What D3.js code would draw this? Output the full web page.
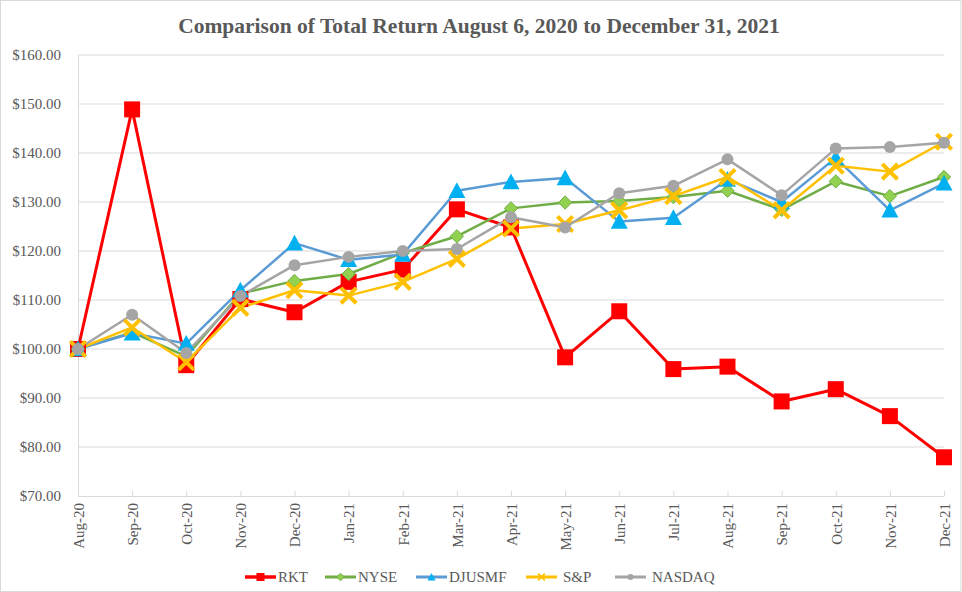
<!DOCTYPE html>
<html>
<head>
<meta charset="utf-8">
<script src="https://cdn.jsdelivr.net/npm/d3@7"></script>
<style>
  body { margin: 0; background: #fff; }
  svg text { font-family: 'Liberation Serif', 'Times New Roman', serif !important; fill: #595959; }
</style>
</head>
<body>
<div id="chart"></div>
<script>
// Category labels and series values
const months = ["Aug-20", "Sep-20", "Oct-20", "Nov-20", "Dec-20", "Jan-21", "Feb-21", "Mar-21",
  "Apr-21", "May-21", "Jun-21", "Jul-21", "Aug-21", "Sep-21", "Oct-21", "Nov-21", "Dec-21"];
const rkt    = [100, 148.9, 96.7, 110.2, 107.5, 113.7, 116.2, 128.5, 124.8, 98.3, 107.7, 95.9, 96.4, 89.3, 91.8, 86.3, 77.9];
const nyse   = [100, 103.4, 98.5, 111.3, 113.9, 115.3, 119.6, 123.0, 128.7, 129.9, 130.2, 131.0, 132.3, 128.4, 134.2, 131.2, 135.1];
const djusmf = [100, 103.2, 101.1, 112.0, 121.6, 118.2, 119.3, 132.3, 134.1, 134.9, 126.0, 126.8, 134.6, 130.0, 139.0, 128.3, 133.8];
const sp     = [100, 104.4, 97.3, 108.4, 112.0, 110.9, 113.7, 118.4, 124.6, 125.5, 128.3, 131.2, 135.1, 128.3, 137.4, 136.2, 142.3];
const nasdaq = [100, 107.0, 99.2, 110.8, 117.1, 118.8, 120.0, 120.4, 126.9, 124.8, 131.8, 133.3, 138.7, 131.4, 140.9, 141.2, 142.1];
const yTicks = [70, 80, 90, 100, 110, 120, 130, 140, 150, 160];

const series = [
  { name: "RKT",    values: rkt,    line: "#FF0000", fill: "#FF0000", stroke: "#FF0000", shape: "square",   lw: 3 },
  { name: "NYSE",   values: nyse,   line: "#70AD47", fill: "#92D050", stroke: "#70AD47", shape: "diamond",  lw: 2.5 },
  { name: "DJUSMF", values: djusmf, line: "#5B9BD5", fill: "#00B0F0", stroke: "#00B0F0", shape: "triangle", lw: 2.5 },
  { name: "S&P",    values: sp,     line: "#FFC000", fill: "none",    stroke: "#FFC000", shape: "cross",    lw: 2.5 },
  { name: "NASDAQ", values: nasdaq, line: "#A5A5A5", fill: "#A5A5A5", stroke: "#A5A5A5", shape: "circle",   lw: 2.5 }
];

const W = 962, H = 592;
const plot = { left: 78, right: 944, top: 55, bottom: 496 };
const FONT = "'Liberation Serif', 'Times New Roman', serif";

const svg = d3.select("#chart").append("svg")
  .attr("width", W).attr("height", H)
  .attr("font-family", FONT);

// chart border
svg.append("rect")
  .attr("x", 0.5).attr("y", 0.5)
  .attr("width", W - 1.5).attr("height", H - 1)
  .attr("fill", "none").attr("stroke", "#d9d9d9");

const x = d3.scalePoint().domain(months).range([plot.left, plot.right]);
const y = d3.scaleLinear().domain([70, 160]).range([plot.bottom, plot.top]);

// Title
svg.append("text")
  .attr("x", 479).attr("y", 33)
  .attr("text-anchor", "middle")
  .style("font-size", "21.5px").style("font-weight", "bold")
  .text("Comparison of Total Return August 6, 2020 to December 31, 2021");

// Gridlines
svg.append("g").selectAll("line")
  .data(yTicks.slice(1))
  .enter().append("line")
  .attr("x1", plot.left).attr("x2", plot.right)
  .attr("y1", d => y(d)).attr("y2", d => y(d))
  .attr("stroke", "#d9d9d9").attr("stroke-width", 1);

// Y axis
const yAxis = svg.append("g")
  .attr("transform", "translate(" + plot.left + ",0)")
  .call(d3.axisLeft(y).tickValues(yTicks).tickSize(0).tickPadding(17)
    .tickFormat(d => "$" + d3.format(".2f")(d)))
  .attr("font-family", FONT).attr("font-size", 15);
yAxis.select(".domain").attr("stroke", "#d9d9d9");
yAxis.selectAll("text").attr("fill", "#595959");

// X axis
const xAxis = svg.append("g")
  .attr("transform", "translate(0," + plot.bottom + ")")
  .call(d3.axisBottom(x).tickSizeInner(-5).tickSizeOuter(0))
  .attr("font-family", FONT).attr("font-size", 15);
xAxis.select(".domain").attr("stroke", "#d9d9d9");
xAxis.selectAll(".tick line").attr("stroke", "#d9d9d9");
xAxis.selectAll("text")
  .attr("fill", "#595959")
  .attr("text-anchor", "end")
  .attr("dy", "0.35em")
  .attr("transform", "rotate(-90)")
  .attr("x", -7).attr("y", 0);

// Lines first
const line = d3.line()
  .x((d, i) => x(months[i]))
  .y(d => y(d));

svg.append("g").selectAll("path")
  .data(series)
  .enter().append("path")
  .attr("d", d => line(d.values))
  .attr("fill", "none")
  .attr("stroke", d => d.line)
  .attr("stroke-width", d => d.lw)
  .attr("stroke-linejoin", "round");

// Marker shapes
function marker(g, s, cx, cy, size) {
  const r = size / 2;
  if (s.shape === "square") {
    g.append("rect").attr("x", cx - r).attr("y", cy - r).attr("width", size).attr("height", size)
      .attr("fill", s.fill);
  } else if (s.shape === "diamond") {
    const d = r * 0.95;
    g.append("path").attr("d", "M" + cx + "," + (cy - d) + "L" + (cx + d) + "," + cy + "L" + cx + "," + (cy + d) + "L" + (cx - d) + "," + cy + "Z")
      .attr("fill", s.fill).attr("stroke", s.stroke).attr("stroke-width", 1);
  } else if (s.shape === "triangle") {
    g.append("path").attr("d", "M" + cx + "," + (cy - r) + "L" + (cx + r) + "," + (cy + r * 0.85) + "L" + (cx - r) + "," + (cy + r * 0.85) + "Z")
      .attr("fill", s.fill);
  } else if (s.shape === "cross") {
    const d = r * 0.85;
    g.append("path").attr("d", "M" + (cx - d) + "," + (cy - d) + "L" + (cx + d) + "," + (cy + d) + "M" + (cx + d) + "," + (cy - d) + "L" + (cx - d) + "," + (cy + d))
      .attr("stroke", s.stroke).attr("stroke-width", size * 0.22).attr("fill", "none");
  } else {
    g.append("circle").attr("cx", cx).attr("cy", cy).attr("r", r * 0.75).attr("fill", s.fill);
  }
}

const markerSize = { square: 16, diamond: 14, triangle: 17, cross: 18, circle: 16 };

series.forEach(function(s) {
  const g = svg.append("g");
  s.values.forEach(function(v, i) {
    marker(g, s, x(months[i]), y(v), markerSize[s.shape]);
  });
});

// Legend
const legendX = [245, 325, 416, 526, 615];
const legend = svg.append("g").attr("transform", "translate(0,577)");
series.forEach(function(s, i) {
  const g = legend.append("g").attr("transform", "translate(" + legendX[i] + ",0)");
  g.append("line").attr("x1", 0).attr("x2", 31).attr("y1", 0).attr("y2", 0)
    .attr("stroke", s.line).attr("stroke-width", s.lw + 0.5);
  marker(g, s, 15.5, 0, 8);
  g.append("text")
    .attr("x", s.name === "S&P" || s.name === "NASDAQ" ? 37 : 33).attr("y", 0).attr("dy", "0.35em")
    .style("font-size", "15px")
    .text(s.name);
});
</script>
</body>
</html>
